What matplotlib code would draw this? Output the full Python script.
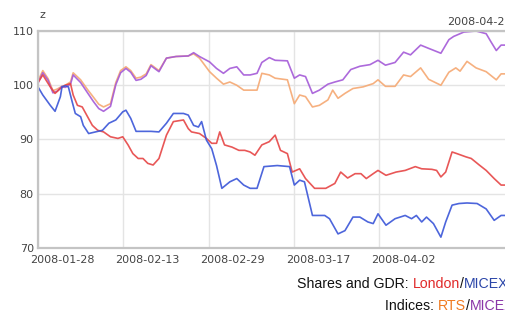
import matplotlib.pyplot as plt
from matplotlib.transforms import ScaledTranslation

# x positions are in "chart days" from 2008-01-28 (16 per grid step)
tick_pos = [0, 16, 32, 48, 64]
tick_labels = ["2008-01-28", "2008-02-13", "2008-02-29", "2008-03-17", "2008-04-02"]

micex_idx_x = [0, 0.9, 1.9, 2.8, 3.6, 4.5, 5.1, 6.1, 6.6, 8, 9.3, 10.4, 11.4, 12.3, 13.6, 14.6,
               15.5, 16.5, 17.4, 18.4, 19.3, 20.3, 21.2, 22.7, 24.1, 25.9, 28.2, 29.2, 30.3, 32.2,
               33.5, 34.8, 36, 37.3, 38.6, 39.8, 41.1, 42, 43.4, 44.5, 46.8, 48.1, 49.1, 50.2, 51.5,
               52.8, 54.4, 55.7, 57.2, 58.7, 60.4, 62.3, 63.8, 65.2, 67, 68.6, 69.9, 71.8, 73.3,
               75.6, 77.1, 78, 79.9, 82.2, 84.1, 85, 86, 86.9, 88.4, 92]
micex_idx = [100.4, 102.3, 100.9, 98.6, 98.9, 99.8, 99.6, 100.2, 101.9, 100.5, 98.6, 97.0, 95.7, 95.2,
             96.1, 100.1, 102.3, 103.1, 102.4, 100.9, 101.1, 101.8, 103.6, 102.5, 105.0, 105.3, 105.4,
             106.0, 105.3, 104.3, 103.1, 102.2, 103.1, 103.4, 101.9, 101.9, 102.2, 104.2, 105.1, 104.6,
             104.5, 101.3, 101.9, 101.6, 98.5, 99.1, 100.2, 100.6, 101.0, 102.9, 103.5, 103.8, 104.6,
             103.7, 104.2, 106.1, 105.6, 107.4, 106.8, 105.9, 108.4, 109.0, 109.8, 110.0, 109.5, 108.0,
             106.4, 107.4, 107.4, 107.4]

rts_x = [0, 0.9, 1.9, 2.8, 3.6, 4.5, 5.1, 6.1, 6.6, 8, 9.3, 10.4, 11.4, 12.3, 13.6, 14.6, 15.5, 16.5,
         17.4, 18.4, 19.3, 20.3, 21.2, 22.7, 24.1, 25.9, 28.2, 29.2, 30.3, 32.2, 33.5, 34.8, 36, 37.3,
         38.6, 39.8, 41.1, 42, 43.4, 44.5, 46.8, 48.1, 49.1, 50.2, 51.5, 52.8, 54.4, 55.3, 56.3, 57.6,
         59.1, 61, 62.9, 63.8, 65.2, 67, 68.6, 69.9, 71.8, 73.3, 75.6, 77.1, 78.4, 79.2, 80.5, 82.2,
         84.1, 86, 86.9, 88.4, 92]
rts = [100.8, 102.7, 101.2, 99.0, 99.3, 99.8, 100.0, 100.6, 102.3, 101.0, 99.2, 97.8, 96.5, 96.0, 96.6,
       100.5, 102.7, 103.4, 102.7, 101.3, 101.5, 102.1, 103.8, 102.7, 105.0, 105.3, 105.4, 105.8, 105.0,
       102.5, 101.3, 100.2, 100.6, 100.0, 99.1, 99.1, 99.1, 102.2, 101.9, 101.3, 101.0, 96.6, 98.2, 97.9,
       96.0, 96.3, 97.3, 99.1, 97.6, 98.5, 99.4, 99.7, 100.3, 101.0, 99.8, 99.8, 101.9, 101.6, 103.2,
       101.1, 100.0, 102.4, 103.2, 102.6, 104.4, 103.2, 102.5, 101.0, 102.1, 102.1, 102.1]

london_x = [0, 0.9, 2.3, 3.2, 4.2, 5.1, 6.1, 6.6, 7.4, 8.3, 9.3, 10.2, 11.2, 12.3, 13.6, 15, 15.9, 16.9,
            17.8, 18.8, 19.7, 20.6, 21.6, 22.7, 24.1, 25.4, 27.3, 28.2, 28.8, 30.3, 31.6, 32.6, 33.5,
            34.1, 35, 36.4, 37.7, 38.8, 39.8, 40.7, 42, 43.4, 44.5, 45.5, 46.8, 47.7, 49.1, 50.2, 51.9,
            54, 55.7, 56.8, 58.1, 59.5, 60.6, 61.6, 62.9, 63.8, 65.3, 67.2, 68.9, 70.8, 72, 73.9, 74.8,
            75.6, 76.5, 77.7, 78.6, 80.3, 81.3, 82.8, 84.1, 85.6, 86.9, 88.4, 92]
london = [100.5, 101.9, 99.7, 98.5, 99.4, 100.0, 100.3, 98.2, 96.3, 96.0, 94.2, 92.6, 91.7, 91.4, 90.5,
          90.2, 90.5, 89.0, 87.4, 86.5, 86.5, 85.6, 85.3, 86.5, 90.8, 93.3, 93.6, 92.0, 91.4, 91.1, 90.2,
          89.3, 89.3, 91.4, 89.0, 88.6, 88.0, 88.0, 87.7, 87.1, 89.0, 89.6, 90.8, 88.0, 87.4, 84.0, 84.6,
          82.8, 81.0, 81.0, 81.9, 84.0, 82.9, 83.7, 83.7, 82.8, 83.7, 84.3, 83.4, 84.0, 84.3, 85.0, 84.6,
          84.5, 84.3, 83.1, 84.0, 87.7, 87.4, 86.8, 86.5, 85.3, 84.3, 82.8, 81.6, 81.6, 81.6]

micex_x = [0, 0.9, 2.3, 3.2, 4.2, 4.5, 5.1, 5.7, 6.4, 7, 8, 8.5, 9.5, 10.8, 12.1, 13.3, 14.6, 15.9, 16.5,
           17.4, 18.4, 19.9, 21.2, 22.7, 24.1, 25.4, 27.3, 28.2, 29.2, 30.1, 30.7, 31.6, 32.6, 33.5,
           34.5, 36, 37.3, 38.6, 39.8, 41.1, 42.4, 44.9, 47.2, 48.1, 49.1, 50, 51.5, 53.8, 54.7, 56.3,
           57.6, 59.1, 60.4, 61.9, 62.9, 63.8, 65.3, 67, 68.9, 70.1, 71, 72, 72.9, 74.2, 75.6, 76.5,
           77.7, 79, 80.5, 82.4, 84.1, 85.6, 86.9, 88.4, 92]
micex = [99.7, 98.2, 96.3, 95.2, 97.9, 99.7, 99.9, 99.7, 97.0, 94.8, 94.2, 92.6, 91.1, 91.4, 91.7, 93.0,
         93.6, 95.1, 95.4, 93.9, 91.5, 91.5, 91.5, 91.4, 93.0, 94.8, 94.8, 94.5, 92.6, 92.3, 93.3, 89.9,
         88.3, 85.2, 81.0, 82.2, 82.8, 81.6, 81.0, 81.0, 85.0, 85.2, 85.0, 81.6, 82.5, 82.2, 76.0, 76.0,
         75.4, 72.6, 73.2, 75.7, 75.7, 74.8, 74.5, 76.3, 74.2, 75.4, 76.0, 75.4, 76.0, 74.8, 75.7, 74.5,
         72.0, 74.8, 77.9, 78.2, 78.3, 78.2, 77.2, 75.1, 76.0, 76.0, 76.0]

fig = plt.figure(figsize=(5.06, 3.13), dpi=100)
ax = fig.add_axes([38 / 506, 65 / 313, 0.99, 217 / 313])

ax.plot(rts_x, rts, color="#f5a872", lw=1.2, alpha=0.9)
ax.plot(micex_idx_x, micex_idx, color="#a45ad8", lw=1.2, alpha=0.9)
ax.plot(london_x, london, color="#e64545", lw=1.2, alpha=0.9)
ax.plot(micex_x, micex, color="#3a55d8", lw=1.2, alpha=0.9)

ax.set_xlim(0, 94)
ax.set_ylim(70, 110)
ax.set_yticks([70, 80, 90, 100, 110])
ax.set_xticks(tick_pos)
ax.set_xticklabels(tick_labels)
ax.grid(True, color="#e4e4e4", lw=1)
ax.set_axisbelow(True)
ax.tick_params(length=0, labelsize=8, colors="#444444")
ax.tick_params(axis="x", pad=5)
ax.tick_params(axis="y", pad=3)
shift = ScaledTranslation(-8 / 100, 0, fig.dpi_scale_trans)
for lab in ax.get_xticklabels():
    lab.set_horizontalalignment("left")
    lab.set_transform(lab.get_transform() + shift)
for side in ["left", "bottom", "top"]:
    ax.spines[side].set_color("#c4c4c4")
    ax.spines[side].set_linewidth(1.6)
ax.spines["right"].set_visible(False)

fig.text(40 / 506, 1 - 15 / 313, "z", fontsize=8, color="#444444", ha="left", va="center")
ax.text(447 / 506, 1 - 22 / 313, "2008-04-24", fontsize=8, color="#444444",
        ha="left", va="center", transform=fig.transFigure)

fs = 10.2
fam = "Liberation Sans"
y1 = 1 - 284 / 313
y2 = 1 - 306 / 313
parts1 = [("Shares and GDR: ", "#111111"), ("London", "#e02828"), ("/", "#111111"), ("MICEX", "#2a45a8")]
parts2 = [("Indices: ", "#111111"), ("RTS", "#f07a20"), ("/", "#111111"), ("MICEX", "#8a35a8")]

fig.canvas.draw()
r = fig.canvas.get_renderer()
for parts, x0, yy in [(parts1, 297, y1), (parts2, 385, y2)]:
    x = x0
    for s, c in parts:
        t = fig.text(x / 506, yy, s, fontsize=fs, family=fam, color=c, ha="left", va="center")
        x += t.get_window_extent(renderer=r).width

fig.savefig("out.png", dpi=100)
